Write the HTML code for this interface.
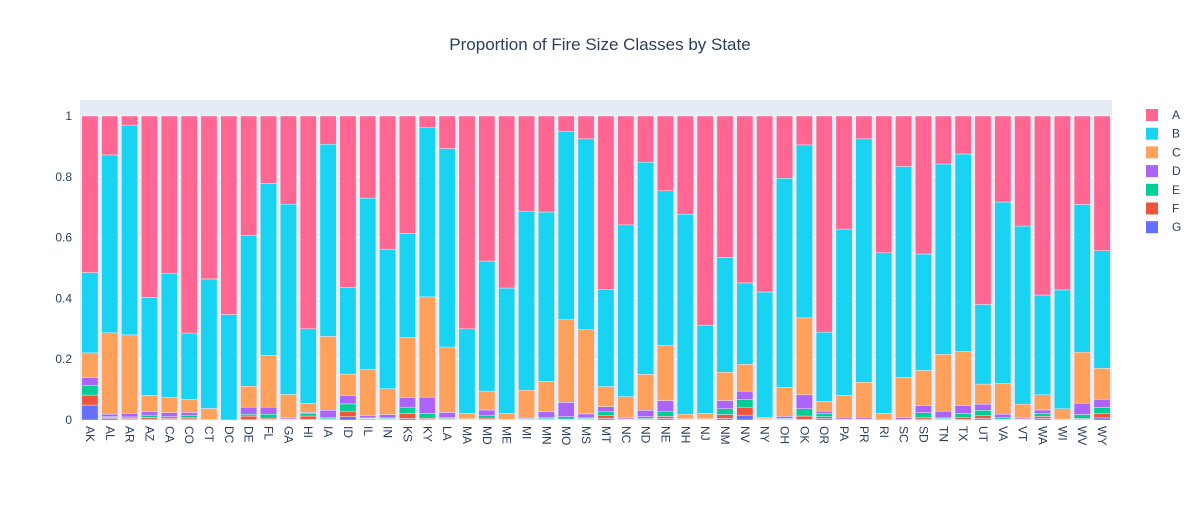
<!DOCTYPE html>
<html><head><meta charset="utf-8"><style>
body{margin:0;background:#fff;}
svg{font-family:"Liberation Sans",Arial,sans-serif;}
</style></head><body>
<svg id="chart" width="1200" height="500">
<text x="600" y="50" text-anchor="middle" font-size="17" fill="#2a3f5f">Proportion of Fire Size Classes by State</text>
<rect x="80" y="100" width="1032" height="320" fill="#E5ECF6"/>
<g id="grid"></g><g id="bars"></g><g id="xt"></g><g id="yt"></g><g id="legend"></g>
</svg>
<script>
const states=["AK","AL","AR","AZ","CA","CO","CT","DC","DE","FL","GA","HI","IA","ID","IL","IN","KS","KY","LA","MA","MD","ME","MI","MN","MO","MS","MT","NC","ND","NE","NH","NJ","NM","NV","NY","OH","OK","OR","PA","PR","RI","SC","SD","TN","TX","UT","VA","VT","WA","WI","WV","WY"];
const seriesNames=["G","F","E","D","C","B","A"];
const G=[.049,.005,.003,.003,.003,.003,0,0,.001,.002,.001,.002,.002,.011,.003,.002,.005,.003,.002,.001,.002,0,.002,.002,.001,.002,.005,.001,.002,.005,.001,.001,.005,.016,.001,.002,.002,.005,.001,.001,0,0,.003,.002,.002,.005,.001,.001,.005,0,.002,.007];
const F=[.033,.003,.003,.005,.003,.004,0,0,.012,.004,.001,.011,.002,.018,.002,.002,.017,.003,.003,.001,.004,0,.001,.002,.002,.002,.009,.001,.003,.007,.001,.001,.013,.026,.001,.001,.011,.006,.001,.001,0,0,.006,.002,.007,.009,.002,.001,.007,0,.003,.015];
const E=[.031,.003,.004,.008,.005,.007,0,0,.006,.013,.001,.008,.005,.024,.002,.003,.02,.016,.004,.001,.008,.001,.002,.005,.008,.003,.013,.001,.006,.017,.001,.001,.019,.026,.001,.002,.024,.01,.001,.001,0,.002,.015,.003,.013,.018,.006,.001,.01,.001,.013,.019];
const D=[.026,.008,.012,.011,.013,.011,.002,0,.023,.023,.004,.004,.023,.028,.008,.011,.032,.053,.016,.001,.019,.001,.004,.018,.047,.013,.017,.004,.021,.035,.001,.001,.027,.027,.001,.007,.046,.008,.006,.006,.001,.006,.024,.022,.026,.02,.01,.004,.011,.002,.037,.027];
const C=[.082,.268,.258,.054,.051,.043,.036,0,.069,.171,.077,.03,.243,.07,.152,.085,.198,.33,.215,.018,.062,.02,.089,.10,.272,.277,.066,.07,.118,.182,.015,.018,.093,.088,.005,.095,.253,.032,.072,.115,.021,.132,.115,.187,.178,.066,.101,.045,.05,.034,.168,.102];
const B=[.264,.585,.69,.322,.408,.218,.426,.347,.497,.565,.626,.245,.632,.285,.563,.459,.342,.558,.653,.278,.428,.412,.589,.557,.62,.628,.32,.565,.698,.508,.658,.29,.378,.268,.412,.688,.569,.228,.547,.801,.528,.694,.383,.626,.649,.262,.597,.586,.328,.391,.486,.387];
const A=[.515,.128,.03,.597,.517,.714,.536,.653,.392,.222,.29,.70,.093,.564,.27,.438,.386,.037,.107,.70,.477,.566,.313,.316,.05,.075,.57,.358,.152,.246,.323,.688,.465,.549,.579,.205,.095,.711,.372,.075,.45,.166,.454,.158,.125,.62,.283,.362,.589,.572,.291,.443];
const yTicks=[0,0.2,0.4,0.6,0.8,1];
const yTickLabels=["0","0.2","0.4","0.6","0.8","1"];
const series=[G,F,E,D,C,B,A];
const colors=["#636EFA","#EF553B","#00CC96","#AB63FA","#FFA15A","#19D3F3","#FF6692"];
const NS="http://www.w3.org/2000/svg";
const X0=80,W=1032,Y0=420,YH=304;
const step=W/states.length, bw=step*0.82;
const xPos=i=>X0+step*i+(step-bw)/2;
const yPos=v=>Y0-v*YH;
function mk(t,a,p){const e=document.createElementNS(NS,t);for(const k in a)e.setAttribute(k,a[k]);p.appendChild(e);return e;}
const grid=document.getElementById('grid'),yt=document.getElementById('yt');
yTicks.forEach((v,i)=>{
 if(v>0){const l=mk('line',{x1:X0,x2:X0+W,y1:yPos(v),y2:yPos(v),stroke:'#fff','stroke-width':1},grid);
 
 }
 const t=mk('text',{x:72,y:yPos(v)+4,'text-anchor':'end','font-size':12,fill:'#2a3f5f'},yt);t.textContent=yTickLabels[i];
 
 
});
const bars=document.getElementById('bars'),xt=document.getElementById('xt');
states.forEach((s,i)=>{
 let cum=0;
 series.forEach((arr,k)=>{
  const v=arr[i];const r=mk('rect',{x:xPos(i),y:yPos(cum+v),width:bw,height:Math.max(0,v*YH),fill:colors[k],stroke:'#E5ECF6','stroke-width':0.5},bars);
  
  
  cum+=v;
 });
 const cx=xPos(i)+bw/2;
 const t=mk('text',{x:0,y:0,transform:`translate(${cx-4},426) rotate(90)`,'font-size':12,fill:'#2a3f5f'},xt);t.textContent=s;
 
 
});
const lg=document.getElementById('legend');
const legendOrder=["A","B","C","D","E","F","G"];
legendOrder.forEach((n,j)=>{
 const k=seriesNames.indexOf(n);
 const g=mk('g',{},lg);
 
 
 const y=115+j*18.7;
 mk('rect',{x:1146,y:y-6,width:12,height:12,fill:colors[k]},g);
 const t=mk('text',{x:1172,y:y+4,'font-size':12,fill:'#2a3f5f'},g);t.textContent=n;
});
</script>
</body></html>
